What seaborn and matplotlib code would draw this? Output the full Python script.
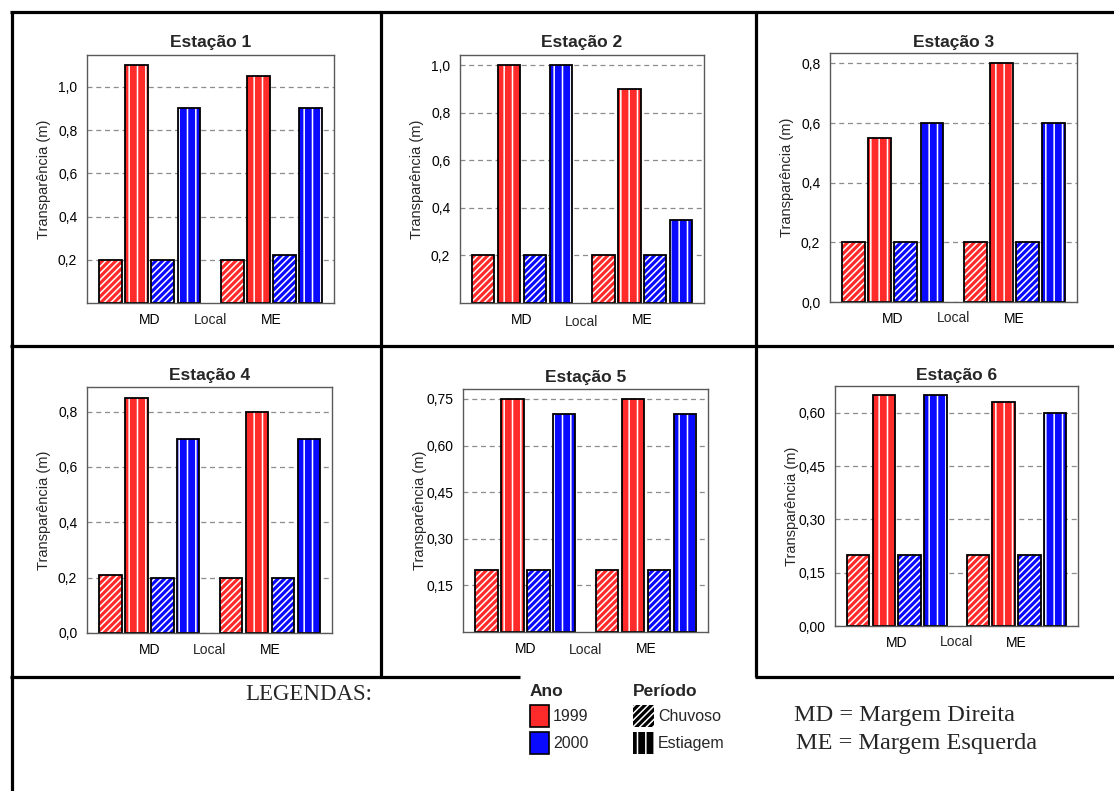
import matplotlib
matplotlib.use("Agg")
import matplotlib.pyplot as plt
import seaborn as sns
import pandas as pd
from matplotlib.patches import Rectangle, Patch
from matplotlib.lines import Line2D

# ---------------- data ----------------
locais = ["MD", "ME"]
series = ["1999 Chuvoso", "1999 Estiagem", "2000 Chuvoso", "2000 Estiagem"]
anos = ["1999", "2000"]
periodos = ["Chuvoso", "Estiagem"]

e1_md = [0.20, 1.10, 0.20, 0.90]
e1_me = [0.20, 1.05, 0.22, 0.90]
e2_md = [0.20, 1.00, 0.20, 1.00]
e2_me = [0.20, 0.90, 0.20, 0.35]
e3_md = [0.20, 0.55, 0.20, 0.60]
e3_me = [0.20, 0.80, 0.20, 0.60]
e4_md = [0.21, 0.85, 0.20, 0.70]
e4_me = [0.20, 0.80, 0.20, 0.70]
e5_md = [0.20, 0.75, 0.20, 0.70]
e5_me = [0.20, 0.75, 0.20, 0.70]
e6_md = [0.20, 0.65, 0.20, 0.65]
e6_me = [0.20, 0.63, 0.20, 0.60]

e1_ticks = [0.2, 0.4, 0.6, 0.8, 1.0]
e2_ticks = [0.2, 0.4, 0.6, 0.8, 1.0]
e3_ticks = [0.0, 0.2, 0.4, 0.6, 0.8]
e4_ticks = [0.0, 0.2, 0.4, 0.6, 0.8]
e5_ticks = [0.15, 0.30, 0.45, 0.60, 0.75]
e6_ticks = [0.00, 0.15, 0.30, 0.45, 0.60]

# ---------------- style ----------------
sns.set_theme(style="white")
plt.rcParams["font.family"] = ["Liberation Sans", "DejaVu Sans"]
plt.rcParams["hatch.linewidth"] = 1.1

RED = "#ff2b2b"
BLUE = "#0a0aff"
palette = {series[0]: RED, series[1]: RED, series[2]: BLUE, series[3]: BLUE}
hatches = {series[0]: "/////", series[1]: "||", series[2]: "/////", series[3]: "||"}

W, H = 1114, 791
fig = plt.figure(figsize=(W / 100, H / 100), dpi=100)
fig.patch.set_facecolor("white")


def px_axes(l, r, t, b):
    return fig.add_axes([l / W, 1 - b / H, (r - l) / W, (b - t) / H])


panels = [
    (1, e1_md, e1_me, e1_ticks, 1.147, 1, (87, 334, 55, 303), 5.5, 0),
    (2, e2_md, e2_me, e2_ticks, 1.044, 1, (460, 704, 55, 303), 5.5, 3),
    (3, e3_md, e3_me, e3_ticks, 0.835, 1, (830, 1077, 53, 302), 4.5, 0),
    (4, e4_md, e4_me, e4_ticks, 0.889, 1, (87, 332, 387, 633), 5, 0),
    (5, e5_md, e5_me, e5_ticks, 0.782, 2, (463, 708, 389, 632), 5, 2),
    (6, e6_md, e6_me, e6_ticks, 0.676, 2, (835, 1078, 386, 626), 4, 0),
]

for num, vmd, vme, ticks, ymax, dec, box, tpad, ldy in panels:
    l, r, t, b = box
    ax = px_axes(l, r, t, b)
    df = pd.DataFrame({
        "Local": [locais[0]] * len(series) + [locais[1]] * len(series),
        "Serie": series + series,
        "valor": vmd + vme,
    })
    sns.barplot(data=df, x="Local", y="valor", hue="Serie", hue_order=series,
                order=locais, palette=palette, width=0.86, gap=0.13,
                edgecolor="white", linewidth=0, legend=False, ax=ax,
                errorbar=None, saturation=1)
    for cont, s in zip(ax.containers, series):
        for p in cont.patches:
            p.set_hatch(hatches[s])
            p.set_edgecolor("white")
            p.set_linewidth(0)
            ax.add_patch(Rectangle((p.get_x(), p.get_y()), p.get_width(), p.get_height(),
                                   fill=False, edgecolor="black", linewidth=1.3,
                                   zorder=p.get_zorder() + 0.1))
    ax.set_xlim(-0.516, 1.514)
    ax.set_ylim(0, ymax)
    ax.set_yticks(ticks)
    ax.set_yticklabels([f"{v:.{dec}f}".replace(".", ",") for v in ticks])
    ax.set_axisbelow(True)
    ax.yaxis.grid(True, linestyle=(0, (4, 3)), color="#8c8c8c", linewidth=0.9)
    ax.xaxis.grid(False)
    for sp in ax.spines.values():
        sp.set_color("#5a5a5a")
        sp.set_linewidth(1.0)
    ax.tick_params(axis="both", direction="out", length=4, width=1.6, color="black",
                   labelsize=10, pad=3, labelcolor="black")
    ax.set_title(f"Estação {num}", fontweight="bold", fontsize=12.5, pad=tpad)
    ax.set_ylabel("Transparência (m)", fontsize=10.5)
    ax.yaxis.set_label_coords(-36 / (r - l), 0.5)
    ax.set_xlabel("Local", fontsize=10)
    ax.xaxis.set_label_coords(0.5, -(9.5 + ldy) / (b - t))

# ---------------- frame lines ----------------
def hline(y, x1, x2):
    fig.add_artist(Line2D([x1 / W, x2 / W], [1 - y / H, 1 - y / H],
                          transform=fig.transFigure, color="black", lw=2.3,
                          solid_capstyle="butt"))


def vline(x, y1, y2):
    fig.add_artist(Line2D([x / W, x / W], [1 - y1 / H, 1 - y2 / H],
                          transform=fig.transFigure, color="black", lw=2.3,
                          solid_capstyle="butt"))


hline(11.5, 10, W)
hline(346, 10, W)
hline(677, 10, 520)
hline(677, 755, W)
vline(12, 10.5, H)
vline(381, 10.5, 677)
vline(756, 10.5, 677)

# ---------------- legend area ----------------
serif = ["Liberation Serif", "DejaVu Serif"]
fig.text(245 / W, 1 - 695 / H, "LEGENDAS:", family=serif, fontsize=16.5,
         ha="left", va="center")
fig.text(794 / W, 1 - 716 / H, "MD = Margem Direita", family=serif, fontsize=17.5,
         ha="left", va="center")
fig.text(796 / W, 1 - 744 / H, "ME = Margem Esquerda", family=serif, fontsize=17.5,
         ha="left", va="center")

ano_handles = [Patch(facecolor=RED, edgecolor="black", linewidth=1.2),
               Patch(facecolor=BLUE, edgecolor="black", linewidth=1.2)]
per_handles = [Patch(facecolor="black", edgecolor="white", hatch="/////", linewidth=0),
               Patch(facecolor="black", edgecolor="white", hatch="||", linewidth=0)]

common = dict(loc="upper left", frameon=False, fontsize=11.5, handlelength=1.2,
              handleheight=1.74, handletextpad=0.25, labelspacing=0.35,
              borderpad=0, borderaxespad=0, alignment="left",
              title_fontproperties={"weight": "bold", "size": 12.5})
leg1 = fig.legend(ano_handles, anos, title="Ano",
                  bbox_to_anchor=(530 / W, 1 - 684 / H), **common)
common["handlelength"] = 1.3
leg2 = fig.legend(per_handles, periodos, title="Período",
                  bbox_to_anchor=(633 / W, 1 - 684 / H), **common)

fig.savefig("out.png", dpi=100, facecolor="white")
